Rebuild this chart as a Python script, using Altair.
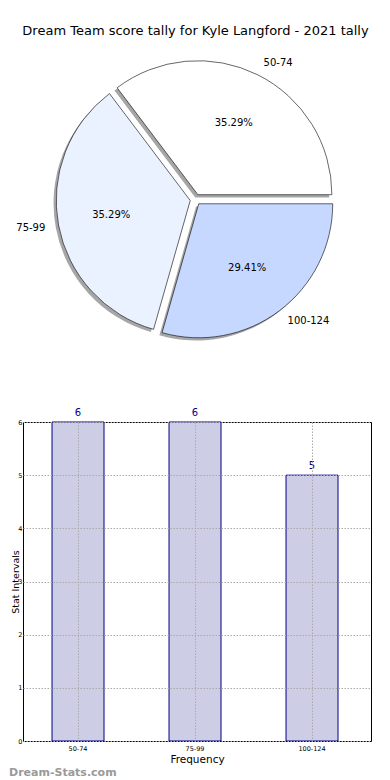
import altair as alt
import pandas as pd

# ---- data ----
categories = ["50-74", "75-99", "100-124"]
counts = [6, 6, 5]
slice_colors = ["#ffffff", "#ebf2ff", "#c6d8ff"]

title_text = "Dream Team score tally for Kyle Langford - 2021 tally"
watermark_text = "Dream-Stats.com"
y_ticks = [0, 1, 2, 3, 4, 5, 6]

# ---- style ----
FONT = "DejaVu Sans"
R = 134                 # pie radius (px)
EXPLODE = 0.04 * R      # matplotlib explode=0.04
SHADOW = 0.02 * R       # matplotlib shadow offset
PIE_W, PIE_H = 348, 340
BAR_W, BAR_H = 348, 319
xdom = [-172.5, 175.5]
ydom = [-149.5, 190.5]

df = pd.DataFrame({"cat": categories, "count": counts,
                   "idx": list(range(len(categories)))})

xs = alt.Scale(domain=xdom, nice=False, zero=False)
ys = alt.Scale(domain=ydom, nice=False, zero=False)

base = (
    alt.Chart(df)
    .transform_joinaggregate(total="sum(count)")
    .transform_window(cum="sum(count)", sort=[alt.SortField("idx")], frame=[None, 0])
    .transform_calculate(
        t0="2.5*PI - 2*PI*(datum.cum - datum.count)/datum.total",
        t1="2.5*PI - 2*PI*datum.cum/datum.total",
    )
    .transform_calculate(m="(datum.t0 + datum.t1)/2")
    .transform_calculate(
        cx=f"{EXPLODE}*sin(datum.m)",
        cy=f"{EXPLODE}*cos(datum.m)",
        px=f"{EXPLODE + 0.6 * R}*sin(datum.m)",
        py=f"{EXPLODE + 0.6 * R}*cos(datum.m)",
        lx=f"{EXPLODE + 1.1 * R}*sin(datum.m)",
        ly=f"{EXPLODE + 1.1 * R}*cos(datum.m)",
        pct="format(100*datum.count/datum.total, '.2f') + '%'",
    )
)

pos = dict(
    x=alt.X("cx:Q", scale=xs, axis=None),
    y=alt.Y("cy:Q", scale=ys, axis=None),
    theta=alt.Theta("t0:Q", scale=None),
    theta2="t1:Q",
)

shadows = base.mark_arc(radius=R, xOffset=-SHADOW, yOffset=SHADOW,
                        fill="#4d4d4d", opacity=0.5).encode(**pos)

slices = base.mark_arc(radius=R, stroke="black", strokeWidth=0.6).encode(
    fill=alt.Fill("cat:N", scale=alt.Scale(domain=categories, range=slice_colors),
                  legend=None),
    **pos,
)

pct_labels = base.mark_text(font=FONT, fontSize=10, color="black",
                            align="center", baseline="middle").encode(
    x=alt.X("px:Q", scale=xs, axis=None),
    y=alt.Y("py:Q", scale=ys, axis=None),
    text="pct:N",
)

cat_right = base.transform_filter("datum.lx >= 0").mark_text(
    font=FONT, fontSize=10, color="black", align="left", baseline="middle").encode(
    x=alt.X("lx:Q", scale=xs, axis=None),
    y=alt.Y("ly:Q", scale=ys, axis=None),
    text="cat:N",
)
cat_left = base.transform_filter("datum.lx < 0").mark_text(
    font=FONT, fontSize=10, color="black", align="right", baseline="middle").encode(
    x=alt.X("lx:Q", scale=xs, axis=None),
    y=alt.Y("ly:Q", scale=ys, axis=None),
    text="cat:N",
)

title = alt.Chart(pd.DataFrame({"t": [title_text]})).mark_text(
    font=FONT, fontSize=13, color="black", align="center", baseline="alphabetic"
).encode(text="t:N", x=alt.value(172.5), y=alt.value(26))

pie = alt.layer(shadows, slices, pct_labels, cat_right, cat_left, title).properties(
    width=PIE_W, height=PIE_H)

# ---- bar chart ----
xb = alt.X(
    "cat:N", sort=categories,
    scale=alt.Scale(paddingInner=0.5556, paddingOuter=0.265, align=0.468),
    axis=alt.Axis(title="Frequency", labelAngle=0, labelFont=FONT, labelFontSize=6.5,
                  labelColor="black", labelPadding=4, titleFont=FONT, titleFontSize=10.5,
                  titleFontWeight="normal", titleColor="black", titlePadding=3,
                  domain=False, ticks=False, grid=True, gridColor="#aaaaaa",
                  gridDash=[1.5, 1.5], gridWidth=1, tickBand="center", zindex=1),
)
yb = alt.Y(
    "count:Q", scale=alt.Scale(domain=[0, 6], nice=False),
    axis=alt.Axis(title="Stat Intervals", values=y_ticks, format="d", labelFont=FONT,
                  labelFontSize=6.5, labelColor="black", labelPadding=1,
                  titleFont=FONT, titleFontSize=9.5, titleFontWeight="normal",
                  titleColor="black", titleX=-5, titleY=BAR_H / 2,
                  titleBaseline="alphabetic", titleAngle=270,
                  domain=False, ticks=False, grid=True, gridColor="#aaaaaa",
                  gridDash=[1.5, 1.5], gridWidth=1, zindex=1),
)

bars = alt.Chart(df).mark_bar(fill="#cdcde6", stroke="#000080", strokeWidth=1).encode(
    x=xb, y=yb)

bar_labels = alt.Chart(df).mark_text(font=FONT, fontSize=10, color="#00008b",
                                     baseline="alphabetic", dy=-6).encode(
    x=alt.X("cat:N", sort=categories), y="count:Q", text="count:Q")

wm = alt.Chart(pd.DataFrame({"t": [watermark_text]})).mark_text(
    font=FONT, fontSize=11, fontWeight="bold", color="#9a9a9a",
    align="left", baseline="alphabetic"
).encode(text="t:N", x=alt.value(-14), y=alt.value(354))

bar_chart = alt.layer(bars, bar_labels, wm).properties(
    width=BAR_W, height=BAR_H,
    view=alt.ViewBackground(stroke="black", strokeWidth=1),
)

chart = alt.vconcat(pie, bar_chart, spacing=73, bounds="flush").properties(
    padding=0,
).configure_view(stroke="transparent")

chart.save("out.html", embed_options={"renderer": "svg", "actions": False})
